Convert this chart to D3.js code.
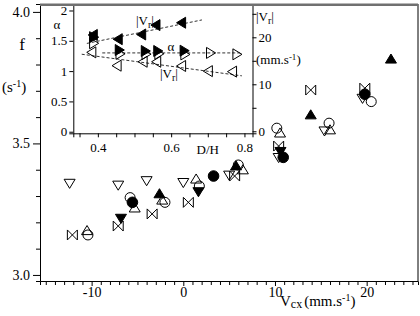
<!DOCTYPE html>
<html>
<head>
<meta charset="utf-8">
<script src="https://cdnjs.cloudflare.com/ajax/libs/d3/7.8.5/d3.min.js"></script>
<style>
  body { margin: 0; background: #fff; }
  svg { display: block; font-family: "Liberation Serif", "DejaVu Serif", serif; fill: #000; }
</style>
</head>
<body>
<div id="chart"></div>
<script>
// Main plot: f (s-1) against Vcx (mm.s-1), one array per marker type
const openCircles = [[-10.4, 3.152], [-5.8, 3.294], [-2.0, 3.276], [1.75, 3.338], [6.0, 3.418], [10.2, 3.558], [15.9, 3.577], [20.5, 3.659]];
const filledCircles = [[-5.55, 3.276], [3.3, 3.376], [10.9, 3.447], [19.8, 3.687]];
const openUp = [[-10.5, 3.168], [-5.3, 3.254], [-2.3, 3.284], [1.4, 3.364], [6.5, 3.399], [10.55, 3.539], [16.0, 3.551]];
const filledUp = [[-2.6, 3.308], [5.75, 3.414], [13.9, 3.608], [22.65, 3.82]];
const openDown = [[-12.4, 3.349], [-7.1, 3.342], [-4.0, 3.359], [0.0, 3.352], [5.0, 3.38], [10.4, 3.447], [15.4, 3.548], [19.55, 3.672]];
const filledDown = [[-6.8, 3.216], [1.65, 3.317], [10.6, 3.47]];
const bowties = [[-12.1, 3.152], [-7.1, 3.186], [-3.4, 3.232], [0.55, 3.276], [5.6, 3.376], [10.4, 3.49], [13.9, 3.703], [19.8, 3.71]];

const xLabelsMain = [-10, 0, 10, 20];
const yLabelsMain = [3.0, 3.5, 4.0];

// Inset: alpha and |Vr| against D/H
const alphaFilled = [[0.388, 1.56], [0.458, 1.348], [0.529, 1.332], [0.563, 1.332], [0.635, 1.337]];
const alphaOpen = [[0.388, 1.459], [0.46, 1.285], [0.531, 1.28], [0.566, 1.285], [0.637, 1.275], [0.707, 1.30], [0.779, 1.277]];
const vrFilled = [[0.388, 20.5], [0.456, 19.6], [0.52, 20.6], [0.559, 22.6], [0.629, 23.1]];
const vrOpen = [[0.384, 16.8], [0.453, 13.96], [0.524, 14.8], [0.561, 14.8], [0.629, 13.9], [0.702, 12.8], [0.768, 12.7]];
const alphaFit = [[0.412, 1.30], [0.788, 1.30]];
const vrFilledFit = [[0.37, 18.7], [0.684, 23.7]];
const vrOpenFit = [[0.356, 16.4], [0.793, 11.8]];

const insetXLabels = [0.4, 0.6, 0.8];
const alphaTicks = [0, 0.5, 1, 1.5, 2];
const vrTicks = [0, 5, 10, 15, 20, 25];
const vrLabels = [0, 10, 20];

const width = 420;
const height = 316;
const main = { left: 40, right: 418, top: 4, bottom: 281 };
const inset = { left: 73.3, right: 252.5, top: 4, bottom: 133.3 };

const svg = d3.select("#chart")
    .append("svg")
    .attr("width", width)
    .attr("height", height);

const x = d3.scaleLinear().domain([-15.63, 25.6]).range([main.left, main.right]);
const y = d3.scaleLinear().domain([2.977, 4.03]).range([main.bottom, main.top]);

const dh = d3.scaleLinear().domain([0.333, 0.822]).range([inset.left, inset.right]);
const alpha = d3.scaleLinear().domain([-0.026, 2.107]).range([inset.bottom, inset.top]);
const vr = d3.scaleLinear().domain([-0.43, 27.09]).range([inset.bottom, inset.top]);

// marker shapes
const symbolPath = (type, r) => {
    const p = d3.path();
    switch (type) {
        case "circle":
            p.moveTo(r, 0); p.arc(0, 0, r, 0, 2 * Math.PI); break;
        case "up":
            p.moveTo(0, -r * 0.95); p.lineTo(r, r * 0.7); p.lineTo(-r, r * 0.7); p.closePath(); break;
        case "down":
            p.moveTo(0, r * 0.95); p.lineTo(r, -r * 0.7); p.lineTo(-r, -r * 0.7); p.closePath(); break;
        case "right":
            p.moveTo(r * 0.95, 0); p.lineTo(-r * 0.7, -r); p.lineTo(-r * 0.7, r); p.closePath(); break;
        case "left":
            p.moveTo(-r * 0.95, 0); p.lineTo(r * 0.7, -r); p.lineTo(r * 0.7, r); p.closePath(); break;
        case "bowtie":
            p.moveTo(-r, -r); p.lineTo(-r, r); p.lineTo(r, -r); p.lineTo(r, r); p.closePath(); break;
    }
    return p.toString();
};

const drawSeries = (g, data, xs, ys, type, r, filled) => {
    g.selectAll(null)
        .data(data)
        .enter().append("path")
        .attr("transform", d => `translate(${xs(d[0])},${ys(d[1])})`)
        .attr("d", symbolPath(type, r))
        .attr("fill", filled ? "#000" : "none")
        .attr("stroke", "#000")
        .attr("stroke-width", 1);
};

const styleAxis = (g, size) => {
    g.select(".domain").attr("stroke", "#000");
    g.selectAll(".tick line").attr("stroke", "#000");
    g.selectAll("text").attr("fill", "#000")
        .style("font-family", '"Liberation Serif", serif')
        .style("font-size", size + "px");
};

// ----- main axes
const xMain = svg.append("g")
    .attr("transform", `translate(0,${main.bottom})`)
    .call(d3.axisBottom(x)
        .tickValues(d3.range(-15, 26))
        .tickSizeOuter(0)
        .tickSize(4)
        .tickPadding(2)
        .tickFormat(d => xLabelsMain.includes(d) ? String(d) : ""));
styleAxis(xMain, 14);
xMain.selectAll(".tick line").attr("y2", d => d % 10 === 0 ? 5 : 4);

const yMain = svg.append("g")
    .attr("transform", `translate(${main.left},0)`)
    .call(d3.axisLeft(y)
        .tickValues(d3.range(30, 41).map(d => d / 10))
        .tickSizeOuter(0)
        .tickSize(4)
        .tickPadding(6)
        .tickFormat(d => yLabelsMain.some(v => Math.abs(v - d) < 1e-6) ? d.toFixed(1) : ""));
styleAxis(yMain, 14);
yMain.selectAll(".tick line").attr("x2", d => yLabelsMain.some(v => Math.abs(v - d) < 1e-6) ? -7 : -4);
yMain.selectAll(".tick text").attr("x", -10);

// right border of main frame
svg.append("line")
    .attr("x1", main.right).attr("x2", main.right)
    .attr("y1", main.top).attr("y2", main.bottom)
    .attr("stroke", "#000");

// ----- main scatter
const points = svg.append("g");
drawSeries(points, openDown, x, y, "down", 5.5, false);
drawSeries(points, openUp, x, y, "up", 5.5, false);
drawSeries(points, openCircles, x, y, "circle", 5, false);
drawSeries(points, bowties, x, y, "bowtie", 5, false);
drawSeries(points, filledDown, x, y, "down", 5.5, true);
drawSeries(points, filledUp, x, y, "up", 5.5, true);
drawSeries(points, filledCircles, x, y, "circle", 5.3, true);

// axis titles
svg.append("text").attr("x", 22).attr("y", 50).attr("text-anchor", "middle")
    .attr("fill", "#000").style("font-size", "17px").text("f");

const sUnit = svg.append("text").attr("x", 2).attr("y", 92).attr("fill", "#000").style("font-size", "15px");
sUnit.append("tspan").text("(s");
sUnit.append("tspan").attr("dy", -5).style("font-size", "10px").text("-1");
sUnit.append("tspan").attr("dy", 5).text(")");

const xTitle = svg.append("text").attr("x", 280).attr("y", 306).attr("fill", "#000").style("font-size", "15px");
xTitle.append("tspan").text("V");
xTitle.append("tspan").attr("dy", 2).style("font-size", "12px").text("cx");
xTitle.append("tspan").attr("dy", -2).attr("dx", 2).text("(mm.s");
xTitle.append("tspan").attr("dy", -5).style("font-size", "10px").text("-1");
xTitle.append("tspan").attr("dy", 5).text(")");

// ----- inset
svg.append("rect")
    .attr("x", inset.left).attr("y", inset.top)
    .attr("width", inset.right - inset.left)
    .attr("height", inset.bottom - inset.top)
    .attr("fill", "#fff");

const insetX = svg.append("g")
    .attr("transform", `translate(0,${inset.bottom})`)
    .call(d3.axisBottom(dh)
        .tickValues(d3.range(7, 17).map(d => d * 0.05))
        .tickSizeOuter(0)
        .tickSize(4)
        .tickPadding(5)
        .tickFormat(d => insetXLabels.some(v => Math.abs(v - d) < 1e-6) ? d.toFixed(1) : ""));
styleAxis(insetX, 13);

svg.append("text")
    .attr("x", dh(0.7)).attr("y", 154)
    .attr("text-anchor", "middle")
    .attr("fill", "#000")
    .style("font-size", "13px")
    .text("D/H");

const insetLeft = svg.append("g")
    .attr("transform", `translate(${inset.left},0)`)
    .call(d3.axisLeft(alpha)
        .tickValues(alphaTicks)
        .tickSizeOuter(0)
        .tickSize(4)
        .tickPadding(2)
        .tickFormat(d => String(d)));
styleAxis(insetLeft, 13);

const insetRight = svg.append("g")
    .attr("transform", `translate(${inset.right},0)`)
    .call(d3.axisRight(vr)
        .tickValues(vrTicks)
        .tickSizeOuter(0)
        .tickSize(4)
        .tickPadding(2)
        .tickFormat(d => vrLabels.includes(d) ? String(d) : ""));
styleAxis(insetRight, 13);

svg.append("text").attr("x", 57).attr("y", 29).attr("text-anchor", "middle")
    .attr("fill", "#000").style("font-size", "13px").text("α");

const vrLabel = (px, py) => {
    const t = svg.append("text").attr("x", px).attr("y", py).attr("fill", "#000").style("font-size", "13px");
    t.append("tspan").text("|V");
    t.append("tspan").attr("dy", 3).style("font-size", "10px").text("r");
    t.append("tspan").attr("dy", -3).text("|");
};
vrLabel(256, 21);
const unit = svg.append("text").attr("x", 256).attr("y", 64).attr("fill", "#000").style("font-size", "13px");
unit.append("tspan").text("(mm.s");
unit.append("tspan").attr("dy", -4).style("font-size", "9px").text("-1");
unit.append("tspan").attr("dy", 4).text(")");

// fit lines
const fitLine = ys => d3.line().x(d => dh(d[0])).y(d => ys(d[1]));
[[alphaFit, alpha], [vrFilledFit, vr], [vrOpenFit, vr]].forEach(([data, ys]) => {
    svg.append("path")
        .attr("d", fitLine(ys)(data))
        .attr("fill", "none")
        .attr("stroke", "#333")
        .attr("stroke-width", 1)
        .attr("stroke-dasharray", "3,2");
});

const insetPts = svg.append("g");
drawSeries(insetPts, alphaOpen, dh, alpha, "right", 5.5, false);
drawSeries(insetPts, vrOpen, dh, vr, "left", 5.5, false);
drawSeries(insetPts, alphaFilled, dh, alpha, "right", 5.5, true);
drawSeries(insetPts, vrFilled, dh, vr, "left", 5.5, true);

vrLabel(136, 25);
svg.append("text").attr("x", 171).attr("y", 51).attr("text-anchor", "middle")
    .attr("fill", "#000").style("font-size", "13px").text("α");
vrLabel(160, 78);

// thick grey top border
svg.append("line")
    .attr("x1", main.left).attr("x2", main.right)
    .attr("y1", 4.8).attr("y2", 4.8)
    .attr("stroke", "#707070")
    .attr("stroke-width", 2.5);
</script>
</body>
</html>
